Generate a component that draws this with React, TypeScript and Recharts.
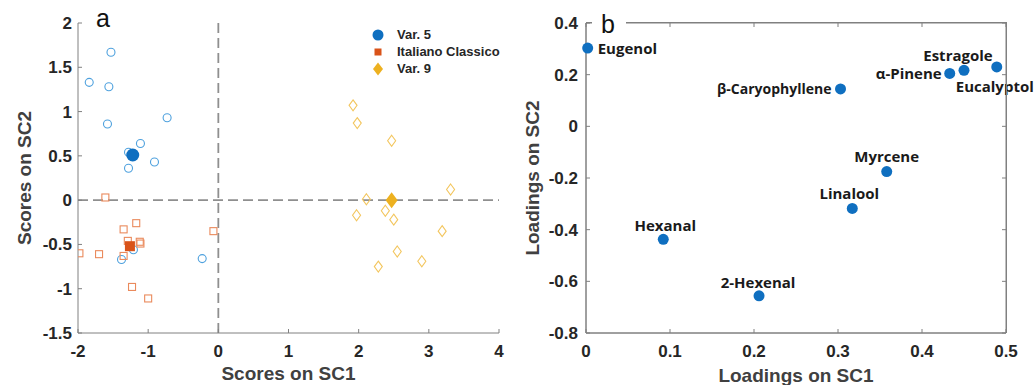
import React from 'react';
import { ScatterChart, Scatter, XAxis, YAxis, ReferenceLine, ReferenceArea, Legend } from 'recharts';

// ---------- Panel a: scores ----------
const var5Scores = [
  { x: -1.53, y: 1.67 }, { x: -1.84, y: 1.33 }, { x: -1.56, y: 1.28 }, { x: -1.58, y: 0.86 },
  { x: -0.73, y: 0.93 }, { x: -1.11, y: 0.64 }, { x: -1.28, y: 0.54 }, { x: -0.91, y: 0.43 },
  { x: -1.28, y: 0.36 }, { x: -1.21, y: -0.56 }, { x: -1.38, y: -0.67 }, { x: -0.23, y: -0.66 },
];
const var5Mean = [{ x: -1.22, y: 0.51 }];

const italianoScores = [
  { x: -1.61, y: 0.03 }, { x: -1.35, y: -0.33 }, { x: -1.17, y: -0.26 }, { x: -1.29, y: -0.46 },
  { x: -1.11, y: -0.49 }, { x: -1.12, y: -0.47 }, { x: -1.35, y: -0.63 }, { x: -1.98, y: -0.6 },
  { x: -1.7, y: -0.61 }, { x: -0.07, y: -0.35 }, { x: -1.23, y: -0.98 }, { x: -1.0, y: -1.11 },
];
const italianoMean = [{ x: -1.26, y: -0.52 }];

const var9Scores = [
  { x: 1.92, y: 1.07 }, { x: 1.98, y: 0.87 }, { x: 2.47, y: 0.67 }, { x: 3.31, y: 0.12 },
  { x: 2.11, y: 0.01 }, { x: 2.38, y: -0.12 }, { x: 1.97, y: -0.17 }, { x: 2.5, y: -0.22 },
  { x: 3.19, y: -0.35 }, { x: 2.55, y: -0.58 }, { x: 2.9, y: -0.69 }, { x: 2.28, y: -0.75 },
];
const var9Mean = [{ x: 2.47, y: 0.0 }];

const legendNames = ['Var. 5', 'Italiano Classico', 'Var. 9'];
const scoreXTicks = [-2, -1, 0, 1, 2, 3, 4];
const scoreYTicks = [-1.5, -1, -0.5, 0, 0.5, 1, 1.5, 2];

// ---------- Panel b: loadings ----------
const compounds = ['Eugenol', 'β-Caryophyllene', 'α-Pinene', 'Estragole', 'Eucalyptol', 'Myrcene', 'Linalool', 'Hexanal', '2-Hexenal'];
const loadingsSC1 = [0.002, 0.303, 0.433, 0.45, 0.489, 0.358, 0.317, 0.092, 0.206];
const loadingsSC2 = [0.303, 0.145, 0.205, 0.217, 0.23, -0.175, -0.318, -0.4375, -0.656];
const loadXTicks = [0, 0.1, 0.2, 0.3, 0.4, 0.5];
const loadYTicks = [-0.8, -0.6, -0.4, -0.2, 0, 0.2, 0.4];
const loadXMin = 0;
const loadXMax = 0.5;
const loadYMin = -0.8;
const loadYMax = 0.4;

const loadingData = compounds.map((name, i) => ({ name, x: loadingsSC1[i], y: loadingsSC2[i] }));
const topTickPts = loadXTicks.map((t) => ({ x: t, y: loadYMax }));
const rightTickPts = loadYTicks.map((t) => ({ x: loadXMax, y: t }));

// label placement (style only)
const labelPlacement: Record<string, { dx: number; dy: number; anchor: string; size: number }> = {
  'Eugenol': { dx: 10, dy: 0, anchor: 'start', size: 15 },
  'β-Caryophyllene': { dx: -9, dy: 0, anchor: 'end', size: 14 },
  'α-Pinene': { dx: -8, dy: 0, anchor: 'end', size: 15 },
  'Estragole': { dx: -6, dy: -15, anchor: 'middle', size: 15 },
  'Eucalyptol': { dx: -2, dy: 19, anchor: 'middle', size: 15 },
  'Myrcene': { dx: 0, dy: -16, anchor: 'middle', size: 15 },
  'Linalool': { dx: -3, dy: -15, anchor: 'middle', size: 15 },
  'Hexanal': { dx: 2, dy: -14, anchor: 'middle', size: 15 },
  '2-Hexenal': { dx: -1, dy: -14, anchor: 'middle', size: 15 },
};

const BLUE = '#0f6fc0';
const BLUE_L = '#4ea1de';
const RED = '#d95319';
const RED_L = '#ea8a5c';
const YEL = '#edb120';
const YEL_L = '#f3c65e';
const AXIS = '#808080';
const TICK_FONT = { fontFamily: '"Liberation Sans", Arial, sans-serif', fontWeight: 700, fontSize: 17, fill: '#262626' };
const TITLE_FONT = { fontFamily: '"Liberation Sans", Arial, sans-serif', fontWeight: 700, fontSize: 19, fill: '#404040' };

const HollowCircle = (p: any) => <circle cx={p.cx} cy={p.cy} r={4} fill="none" stroke={BLUE_L} strokeWidth={1.1} />;
const FilledCircle = (p: any) => <circle cx={p.cx} cy={p.cy} r={6.5} fill={BLUE} />;
const HollowSquare = (p: any) => <rect x={p.cx - 3.5} y={p.cy - 3.5} width={7} height={7} fill="none" stroke={RED_L} strokeWidth={1.1} />;
const FilledSquare = (p: any) => <rect x={p.cx - 5} y={p.cy - 5} width={10} height={10} fill={RED} />;
const HollowDiamond = (p: any) => (
  <polygon points={`${p.cx},${p.cy - 5.5} ${p.cx + 4},${p.cy} ${p.cx},${p.cy + 5.5} ${p.cx - 4},${p.cy}`} fill="none" stroke={YEL_L} strokeWidth={1.1} />
);
const FilledDiamond = (p: any) => (
  <polygon points={`${p.cx},${p.cy - 8} ${p.cx + 6},${p.cy} ${p.cx},${p.cy + 8} ${p.cx - 6},${p.cy}`} fill={YEL} />
);
// inward tick marks for the top and right edges of the box
const TopTick = (p: any) => <rect x={p.cx - 0.5} y={p.cy} width={1} height={4} fill={AXIS} />;
const RightTick = (p: any) => <rect x={p.cx - 4} y={p.cy - 0.5} width={4} height={1} fill={AXIS} />;

const LoadingPoint = (p: any) => {
  const name = p.payload.name;
  const pl = labelPlacement[name];
  return (
    <g>
      <circle cx={p.cx} cy={p.cy} r={5.5} fill={BLUE} />
      <text x={p.cx + pl.dx} y={p.cy + pl.dy} textAnchor={pl.anchor} dominantBaseline="central"
        style={{ fontFamily: '"Open Sans", sans-serif', fontWeight: 700, fontSize: pl.size, fill: '#1a1a1a' }}>
        {name}
      </text>
    </g>
  );
};

const legendMarkers = [
  <circle cx={7} cy={7} r={5.5} fill={BLUE} />,
  <rect x={3.5} y={3.5} width={7} height={7} fill={RED} />,
  <polygon points="7,0.5 12,7 7,13.5 2,7" fill={YEL} />,
];

const LegendContent = () => (
  <div style={{ fontFamily: '"Liberation Sans", Arial, sans-serif', fontWeight: 700, fontSize: 13, color: '#262626' }}>
    {legendNames.map((n, i) => (
      <div key={n} style={{ display: 'flex', alignItems: 'center', height: 17 }}>
        <svg width={14} height={14} style={{ marginRight: 12 }}>{legendMarkers[i]}</svg>
        <span>{n}</span>
      </div>
    ))}
  </div>
);

const xTitle = (text: string, dy: number) => (props: any) => {
  const vb = props.viewBox || {};
  return (
    <text x={vb.x + vb.width / 2} y={vb.y + dy} textAnchor="middle" dominantBaseline="central" style={TITLE_FONT}>{text}</text>
  );
};
const yTitle = (text: string, dx: number) => (props: any) => {
  const vb = props.viewBox || {};
  const cx = vb.x + dx;
  const cy = vb.y + vb.height / 2;
  return (
    <text x={cx} y={cy} transform={`rotate(-90 ${cx} ${cy})`} textAnchor="middle" dominantBaseline="central" style={TITLE_FONT}>{text}</text>
  );
};

export default function App() {
  return (
    <div style={{ position: 'absolute', left: 0, top: 0, width: 1035, height: 385, background: '#fff' }}>
      <div style={{ position: 'absolute', left: 0, top: 0 }}>
        <ScatterChart width={520} height={385} margin={{ top: 23, right: 21, bottom: 22, left: 0 }}>
          <XAxis type="number" dataKey="x" domain={[-2, 4]} ticks={scoreXTicks} allowDataOverflow
            height={30} tickSize={-4} tickMargin={16} stroke={AXIS} tick={TICK_FONT}
            label={{ content: xTitle('Scores on SC1', 40.5) }} />
          <YAxis type="number" dataKey="y" domain={[-1.5, 2]} ticks={scoreYTicks} allowDataOverflow
            width={78} tickSize={-4} tickMargin={10} stroke={AXIS} tick={TICK_FONT}
            label={{ content: yTitle('Scores on SC2', 24) }} />
          <Scatter name="Var. 5 samples" data={var5Scores} shape={HollowCircle} isAnimationActive={false} legendType="none" />
          <Scatter name="Italiano samples" data={italianoScores} shape={HollowSquare} isAnimationActive={false} legendType="none" />
          <Scatter name="Var. 9 samples" data={var9Scores} shape={HollowDiamond} isAnimationActive={false} legendType="none" />
          <Scatter name="Var. 5" data={var5Mean} shape={FilledCircle} isAnimationActive={false} />
          <Scatter name="Italiano Classico" data={italianoMean} shape={FilledSquare} isAnimationActive={false} />
          <Scatter name="Var. 9" data={var9Mean} shape={FilledDiamond} isAnimationActive={false} />
          <ReferenceLine x={0} stroke="#8f8f8f" strokeWidth={1.8} strokeDasharray="10 5" />
          <ReferenceLine y={0} stroke="#8f8f8f" strokeWidth={1.8} strokeDasharray="10 5" />
          <Legend layout="vertical" align="center" verticalAlign="middle" content={LegendContent}
            wrapperStyle={{ left: 371, top: 26, width: 'auto', height: 'auto' }} />
        </ScatterChart>
      </div>
      <div style={{ position: 'absolute', left: 520, top: 0, width: 515, height: 385 }}>
        <ScatterChart width={515} height={385} margin={{ top: 23, right: 29, bottom: 22, left: 0 }}>
          <XAxis type="number" dataKey="x" domain={[loadXMin, loadXMax]} ticks={loadXTicks}
            height={30} tickSize={-4} tickMargin={16} stroke={AXIS} tick={TICK_FONT}
            label={{ content: xTitle('Loadings on SC1', 42.5) }} />
          <YAxis type="number" dataKey="y" domain={[loadYMin, loadYMax]} ticks={loadYTicks}
            width={66} tickSize={-4} tickMargin={12} stroke={AXIS} tick={TICK_FONT}
            label={{ content: yTitle('Loadings on SC2', 12) }} />
          <ReferenceArea x1={loadXMin} x2={loadXMax} y1={loadYMin} y2={loadYMax} fill="none" fillOpacity={0}
            stroke={AXIS} strokeWidth={1} ifOverflow="visible" />
          <Scatter name="Loadings" data={loadingData} shape={LoadingPoint} isAnimationActive={false} />
          <Scatter name="top ticks" data={topTickPts} shape={TopTick} isAnimationActive={false} legendType="none" />
          <Scatter name="right ticks" data={rightTickPts} shape={RightTick} isAnimationActive={false} legendType="none" />
        </ScatterChart>
        {/* frame: top and right edges of the plot box */}
        <div style={{ position: 'absolute', zIndex: 5, left: 66, top: 22, width: 421, height: 1, background: AXIS }} />
        <div style={{ position: 'absolute', zIndex: 5, left: 486, top: 22, width: 1, height: 311, background: AXIS }} />
      </div>
      <div style={{ position: 'absolute', zIndex: 6, left: 96, top: 6, fontFamily: '"Liberation Sans", Arial, sans-serif', fontSize: 25, lineHeight: '25px', color: '#111' }}>a</div>
      <div style={{ position: 'absolute', zIndex: 6, left: 592, top: 12, width: 34, height: 22, background: '#fff' }}>
        <div style={{ position: 'absolute', left: 9, top: 0, fontFamily: '"Liberation Sans", Arial, sans-serif', fontSize: 25, lineHeight: '25px', color: '#111' }}>b</div>
      </div>
    </div>
  );
}
